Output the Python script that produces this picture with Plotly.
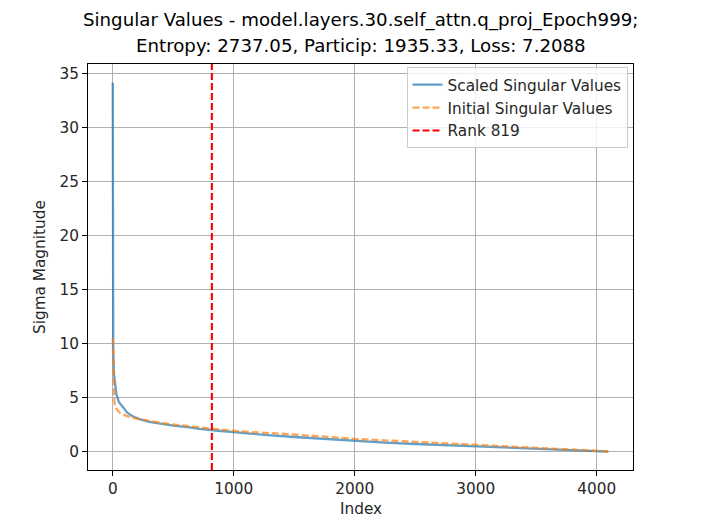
import plotly.graph_objects as go

# ---- data ----
scaled_idx = [0, 1, 2, 4, 10, 20, 30, 50, 85, 120, 160, 220, 300, 400, 500, 636, 719, 850,
              1050, 1250, 1500, 1750, 2008, 2250, 2500, 2750, 3005, 3250, 3500, 3750, 3950, 4095]
scaled_vals = [34.2, 14.0, 11.5, 9.5, 7.2, 5.9, 5.3, 4.6, 4.05, 3.6, 3.3, 3.0, 2.75, 2.55, 2.4,
               2.24, 2.1, 1.95, 1.72, 1.55, 1.35, 1.15, 0.95, 0.82, 0.7, 0.58, 0.46, 0.36, 0.25,
               0.15, 0.07, 0.0]

initial_idx = [0, 2, 5, 10, 18, 30, 60, 113, 220, 400, 636, 719, 1050, 1500, 2008, 2500,
               3005, 3500, 3800, 4095]
initial_vals = [10.5, 8.5, 6.5, 5.0, 4.3, 3.95, 3.6, 3.3, 3.0, 2.65, 2.33, 2.24, 1.87, 1.58,
                1.17, 0.9, 0.62, 0.37, 0.22, 0.02]

rank = 819
x_ticks = [0, 1000, 2000, 3000, 4000]
y_ticks = [0, 5, 10, 15, 20, 25, 30, 35]

title_line1 = "Singular Values - model.layers.30.self_attn.q_proj_Epoch999;"
title_line2 = "Entropy: 2737.05, Particip: 1935.33, Loss: 7.2088"

# matplotlib-like 5% margins
xmin, xmax = 0, 4095
ymin, ymax = 0.0, max(scaled_vals)
xpad = 0.05 * (xmax - xmin)
ypad = 0.05 * (ymax - ymin)
xr = [xmin - xpad, xmax + xpad]
yr = [ymin - ypad, ymax + ypad]

FONT = "DejaVu Sans"
FS = 15.3
TFS = 18.2

fig = go.Figure()
fig.add_trace(go.Scatter(x=scaled_idx, y=scaled_vals, mode="lines",
                         name="Scaled Singular Values",
                         line=dict(color="rgba(31,119,180,0.7)", width=2.3)))
fig.add_trace(go.Scatter(x=initial_idx, y=initial_vals, mode="lines",
                         name="Initial Singular Values",
                         line=dict(color="rgba(255,127,14,0.7)", width=2.3, dash="7px,3px")))
fig.add_trace(go.Scatter(x=[rank, rank], y=yr, mode="lines",
                         name=f"Rank {rank}",
                         line=dict(color="red", width=2.1, dash="7px,3px")))

axis_common = dict(showline=True, linecolor="black", linewidth=1, mirror=True,
                   ticks="outside", ticklen=5, tickwidth=1, tickcolor="black",
                   showgrid=True, gridcolor="#b0b0b0", gridwidth=1, zeroline=False,
                   tickfont=dict(family=FONT, size=FS, color="#262626"))

fig.update_layout(
    width=704, height=528,
    margin=dict(l=88, r=71, t=64, b=58),
    paper_bgcolor="white", plot_bgcolor="white",
    font=dict(family=FONT, size=FS, color="#262626"),
    showlegend=True,
    legend=dict(x=0.99, y=0.992, xanchor="right", yanchor="top",
                bgcolor="rgba(255,255,255,0.8)", bordercolor="#cccccc", borderwidth=1,
                font=dict(family=FONT, size=FS, color="#262626")),
    xaxis=dict(range=xr, tickvals=x_ticks, ticktext=[str(v) for v in x_ticks], **axis_common),
    yaxis=dict(range=yr, tickvals=y_ticks, ticktext=[str(v) for v in y_ticks], **axis_common),
    annotations=[
        dict(text=title_line1, xref="paper", yref="paper", x=0.5, y=1.108,
             xanchor="center", yanchor="middle", showarrow=False,
             font=dict(family=FONT, size=TFS, color="black")),
        dict(text=title_line2, xref="paper", yref="paper", x=0.5, y=1.046,
             xanchor="center", yanchor="middle", showarrow=False,
             font=dict(family=FONT, size=TFS, color="black")),
        dict(text="Index", xref="paper", yref="paper", x=0.5, y=-0.097,
             xanchor="center", yanchor="middle", showarrow=False,
             font=dict(family=FONT, size=FS, color="#262626")),
        dict(text="Sigma Magnitude", xref="paper", yref="paper", x=-0.088, y=0.5,
             xanchor="center", yanchor="middle", showarrow=False, textangle=-90,
             font=dict(family=FONT, size=FS, color="#262626")),
    ],
)

fig.write_html("out.html")
